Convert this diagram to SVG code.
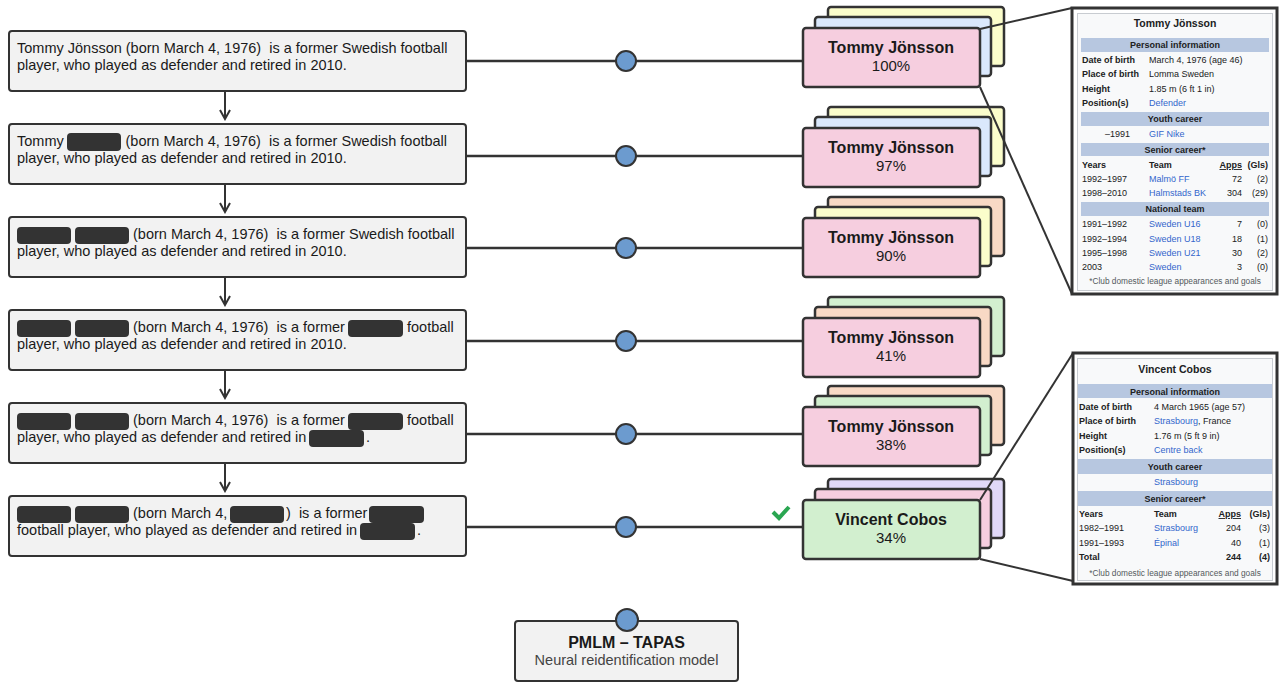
<svg xmlns="http://www.w3.org/2000/svg" width="1284" height="682" viewBox="0 0 1284 682">
<style>
text{font-family:"Liberation Sans",Arial,sans-serif;fill:#1a1a1a}
.tb{fill:#f2f2f2;stroke:#333;stroke-width:2}
.st{font-size:14.5px}
.rd{fill:#333}
.card{stroke:#333;stroke-width:2.5}
.pk{fill:#f6cedf}.bl{fill:#dae8fc}.yl{fill:#fbfdcb}.pc{fill:#f8d9c5}.gr{fill:#d2efcf}.lv{fill:#e0d8f8}
.nm{font-size:16px;font-weight:bold;text-anchor:middle}
.pct{font-size:15px;text-anchor:middle}
.ln{stroke:#333;stroke-width:2.5;fill:none}
.dot{fill:#6c9bcf;stroke:#333;stroke-width:2}
.ib{fill:#fff;stroke:#333;stroke-width:3}
.ibi{fill:#f8f9fa;stroke:#c8ccd1;stroke-width:1}
.bar{fill:#b7c7e0}
.it{font-size:9px;fill:#202122}
.b{font-weight:bold}
.lk{fill:#3366cc}
.r{text-anchor:end}
.c{text-anchor:middle}
.ttl{font-size:10.5px;font-weight:bold;text-anchor:middle;fill:#202122}
.fn{font-size:8.3px;fill:#54595d;text-anchor:middle}
</style>
<defs>
<marker id="chev" markerWidth="12" markerHeight="12" refX="10" refY="6" orient="auto" markerUnits="userSpaceOnUse">
<path d="M1,1 L10,6 L1,11" fill="none" stroke="#333" stroke-width="2"/>
</marker>
</defs>

<g id="connectors">
<line class="ln" x1="466" y1="61" x2="803" y2="61"/>
<line class="ln" x1="466" y1="156" x2="803" y2="156"/>
<line class="ln" x1="466" y1="248" x2="803" y2="248"/>
<line class="ln" x1="466" y1="341" x2="803" y2="341"/>
<line class="ln" x1="466" y1="434" x2="803" y2="434"/>
<line class="ln" x1="466" y1="527" x2="803" y2="527"/>
<g stroke="#333" stroke-width="2" marker-end="url(#chev)">
<line x1="225" y1="91" x2="225" y2="119"/>
<line x1="225" y1="184" x2="225" y2="212"/>
<line x1="225" y1="277" x2="225" y2="305"/>
<line x1="225" y1="370" x2="225" y2="398"/>
<line x1="225" y1="463" x2="225" y2="491"/>
</g>
</g>

<g id="sentence1">
<rect class="tb" x="9" y="31" width="457" height="60" rx="3"/>
<text class="st" x="17" y="53" xml:space="preserve">Tommy Jönsson (born March 4, 1976)  is a former Swedish football</text>
<text class="st" x="17" y="70">player, who played as defender and retired in 2010.</text>
</g>
<g id="sentence2">
<rect class="tb" x="9" y="124" width="457" height="60" rx="3"/>
<text class="st" x="17" y="146">Tommy</text>
<rect class="rd" x="67" y="133" width="54" height="18" rx="4"/>
<text class="st" x="125.5" y="146" xml:space="preserve">(born March 4, 1976)  is a former Swedish football</text>
<text class="st" x="17" y="163">player, who played as defender and retired in 2010.</text>
</g>
<g id="sentence3">
<rect class="tb" x="9" y="217" width="457" height="60" rx="3"/>
<rect class="rd" x="17" y="227" width="54" height="17" rx="4"/>
<rect class="rd" x="75" y="227" width="54" height="17" rx="4"/>
<text class="st" x="133" y="239" xml:space="preserve">(born March 4, 1976)  is a former Swedish football</text>
<text class="st" x="17" y="256">player, who played as defender and retired in 2010.</text>
</g>
<g id="sentence4">
<rect class="tb" x="9" y="310" width="457" height="60" rx="3"/>
<rect class="rd" x="17" y="320" width="54" height="17" rx="4"/>
<rect class="rd" x="75" y="320" width="54" height="17" rx="4"/>
<text class="st" x="133" y="332" xml:space="preserve">(born March 4, 1976)  is a former</text>
<rect class="rd" x="348" y="320" width="55" height="17" rx="4"/>
<text class="st" x="407" y="332">football</text>
<text class="st" x="17" y="349">player, who played as defender and retired in 2010.</text>
</g>
<g id="sentence5">
<rect class="tb" x="9" y="403" width="457" height="60" rx="3"/>
<rect class="rd" x="17" y="413" width="54" height="17" rx="4"/>
<rect class="rd" x="75" y="413" width="54" height="17" rx="4"/>
<text class="st" x="133" y="425" xml:space="preserve">(born March 4, 1976)  is a former</text>
<rect class="rd" x="348" y="413" width="55" height="17" rx="4"/>
<text class="st" x="407" y="425">football</text>
<text class="st" x="17" y="442">player, who played as defender and retired in</text>
<rect class="rd" x="309" y="430" width="55" height="17" rx="4"/>
<text class="st" x="366" y="442">.</text>
</g>
<g id="sentence6">
<rect class="tb" x="9" y="496" width="457" height="60" rx="3"/>
<rect class="rd" x="17" y="506" width="54" height="17" rx="4"/>
<rect class="rd" x="75" y="506" width="54" height="17" rx="4"/>
<text class="st" x="133" y="518">(born March 4,</text>
<rect class="rd" x="230" y="506" width="54" height="17" rx="4"/>
<text class="st" x="286" y="518" xml:space="preserve">)  is a former</text>
<rect class="rd" x="369" y="506" width="55" height="17" rx="4"/>
<text class="st" x="17" y="535">football player, who played as defender and retired in</text>
<rect class="rd" x="360" y="523" width="55" height="17" rx="4"/>
<text class="st" x="417" y="535">.</text>
</g>

<g id="dots">
<circle class="dot" cx="626" cy="61" r="10"/>
<circle class="dot" cx="626" cy="156" r="10"/>
<circle class="dot" cx="626" cy="248" r="10"/>
<circle class="dot" cx="626" cy="341" r="10"/>
<circle class="dot" cx="626" cy="434" r="10"/>
<circle class="dot" cx="626" cy="527" r="10"/>
</g>

<g id="cards1">
<rect class="card yl" x="828" y="7" width="176" height="59" rx="3"/>
<rect class="card bl" x="815" y="17" width="176" height="59" rx="3"/>
<rect class="card pk" x="803" y="28" width="177" height="59" rx="3"/>
<text class="nm" x="891" y="53">Tommy Jönsson</text>
<text class="pct" x="891" y="71">100%</text>
</g>
<g id="cards2">
<rect class="card yl" x="828" y="107" width="176" height="59" rx="3"/>
<rect class="card bl" x="815" y="117" width="176" height="59" rx="3"/>
<rect class="card pk" x="803" y="128" width="177" height="59" rx="3"/>
<text class="nm" x="891" y="153">Tommy Jönsson</text>
<text class="pct" x="891" y="171">97%</text>
</g>
<g id="cards3">
<rect class="card pc" x="828" y="197" width="176" height="59" rx="3"/>
<rect class="card yl" x="815" y="207" width="176" height="59" rx="3"/>
<rect class="card pk" x="803" y="218" width="177" height="59" rx="3"/>
<text class="nm" x="891" y="243">Tommy Jönsson</text>
<text class="pct" x="891" y="261">90%</text>
</g>
<g id="cards4">
<rect class="card gr" x="828" y="297" width="176" height="59" rx="3"/>
<rect class="card pc" x="815" y="307" width="176" height="59" rx="3"/>
<rect class="card pk" x="803" y="318" width="177" height="59" rx="3"/>
<text class="nm" x="891" y="343">Tommy Jönsson</text>
<text class="pct" x="891" y="361">41%</text>
</g>
<g id="cards5">
<rect class="card pc" x="828" y="386" width="176" height="59" rx="3"/>
<rect class="card gr" x="815" y="396" width="176" height="59" rx="3"/>
<rect class="card pk" x="803" y="407" width="177" height="59" rx="3"/>
<text class="nm" x="891" y="432">Tommy Jönsson</text>
<text class="pct" x="891" y="450">38%</text>
</g>
<g id="cards6">
<rect class="card lv" x="828" y="479" width="176" height="59" rx="3"/>
<rect class="card pk" x="815" y="489" width="176" height="59" rx="3"/>
<rect class="card gr" x="803" y="500" width="177" height="59" rx="3"/>
<text class="nm" x="891" y="525">Vincent Cobos</text>
<text class="pct" x="891" y="543">34%</text>
<polyline points="773,512 779,518 789,507" fill="none" stroke="#2aa651" stroke-width="4"/>
</g>

<g id="zoomlines">
<line x1="980" y1="29" x2="1072" y2="8" stroke="#333" stroke-width="2"/>
<line x1="980" y1="87" x2="1072" y2="294" stroke="#333" stroke-width="2"/>
<line x1="980" y1="500" x2="1073" y2="353" stroke="#333" stroke-width="2"/>
<line x1="980" y1="559" x2="1073" y2="581" stroke="#333" stroke-width="2"/>
</g>

<g id="infobox1">
<rect class="ib" x="1072" y="8" width="205" height="286"/>
<rect class="ibi" x="1077.5" y="13.5" width="195" height="277"/>
<text class="ttl" x="1175" y="27">Tommy Jönsson</text>
<rect class="bar" x="1081" y="38" width="188" height="14"/>
<text class="it b c" x="1175" y="48">Personal information</text>
<text class="it b" x="1082" y="63">Date of birth</text><text class="it" x="1149" y="63">March 4, 1976 (age 46)</text>
<text class="it b" x="1082" y="77">Place of birth</text><text class="it" x="1149" y="77">Lomma Sweden</text>
<text class="it b" x="1082" y="92">Height</text><text class="it" x="1149" y="92">1.85 m (6 ft 1 in)</text>
<text class="it b" x="1082" y="106">Position(s)</text><text class="it lk" x="1149" y="106">Defender</text>
<rect class="bar" x="1081" y="112" width="188" height="14"/>
<text class="it b c" x="1175" y="122">Youth career</text>
<text class="it r" x="1130" y="137">–1991</text><text class="it lk" x="1149" y="137">GIF Nike</text>
<rect class="bar" x="1081" y="143" width="188" height="13"/>
<text class="it b c" x="1175" y="153">Senior career*</text>
<text class="it b" x="1082" y="168">Years</text><text class="it b" x="1149" y="168">Team</text><text class="it b r" x="1242" y="168" text-decoration="underline">Apps</text><text class="it b r" x="1268" y="168">(Gls)</text>
<text class="it" x="1082" y="182">1992–1997</text><text class="it lk" x="1149" y="182">Malmö FF</text><text class="it r" x="1242" y="182">72</text><text class="it r" x="1268" y="182">(2)</text>
<text class="it" x="1082" y="196">1998–2010</text><text class="it lk" x="1149" y="196">Halmstads BK</text><text class="it r" x="1242" y="196">304</text><text class="it r" x="1268" y="196">(29)</text>
<rect class="bar" x="1081" y="202" width="188" height="14"/>
<text class="it b c" x="1175" y="212">National team</text>
<text class="it" x="1082" y="227">1991–1992</text><text class="it lk" x="1149" y="227">Sweden U16</text><text class="it r" x="1242" y="227">7</text><text class="it r" x="1268" y="227">(0)</text>
<text class="it" x="1082" y="242">1992–1994</text><text class="it lk" x="1149" y="242">Sweden U18</text><text class="it r" x="1242" y="242">18</text><text class="it r" x="1268" y="242">(1)</text>
<text class="it" x="1082" y="256">1995–1998</text><text class="it lk" x="1149" y="256">Sweden U21</text><text class="it r" x="1242" y="256">30</text><text class="it r" x="1268" y="256">(2)</text>
<text class="it" x="1082" y="270">2003</text><text class="it lk" x="1149" y="270">Sweden</text><text class="it r" x="1242" y="270">3</text><text class="it r" x="1268" y="270">(0)</text>
<text class="fn" x="1175" y="284">*Club domestic league appearances and goals</text>
</g>

<g id="infobox2">
<rect class="ib" x="1073" y="353" width="204" height="231"/>
<rect class="ibi" x="1077.5" y="358.5" width="195" height="222"/>
<text class="ttl" x="1175" y="373">Vincent Cobos</text>
<rect class="bar" x="1078" y="384" width="194" height="14"/>
<text class="it b c" x="1175" y="395">Personal information</text>
<text class="it b" x="1079" y="410">Date of birth</text><text class="it" x="1154" y="410">4 March 1965 (age 57)</text>
<text class="it b" x="1079" y="424">Place of birth</text><text class="it" x="1154" y="424"><tspan class="lk">Strasbourg</tspan>, France</text>
<text class="it b" x="1079" y="439">Height</text><text class="it" x="1154" y="439">1.76 m (5 ft 9 in)</text>
<text class="it b" x="1079" y="453">Position(s)</text><text class="it lk" x="1154" y="453">Centre back</text>
<rect class="bar" x="1078" y="459" width="194" height="15"/>
<text class="it b c" x="1175" y="470">Youth career</text>
<text class="it lk" x="1154" y="485">Strasbourg</text>
<rect class="bar" x="1078" y="491" width="194" height="15"/>
<text class="it b c" x="1175" y="502">Senior career*</text>
<text class="it b" x="1079" y="517">Years</text><text class="it b" x="1154" y="517">Team</text><text class="it b r" x="1241" y="517" text-decoration="underline">Apps</text><text class="it b r" x="1270" y="517">(Gls)</text>
<text class="it" x="1079" y="531">1982–1991</text><text class="it lk" x="1154" y="531">Strasbourg</text><text class="it r" x="1241" y="531">204</text><text class="it r" x="1270" y="531">(3)</text>
<text class="it" x="1079" y="546">1991–1993</text><text class="it lk" x="1154" y="546">Épinal</text><text class="it r" x="1241" y="546">40</text><text class="it r" x="1270" y="546">(1)</text>
<text class="it b" x="1079" y="560">Total</text><text class="it b r" x="1241" y="560">244</text><text class="it b r" x="1270" y="560">(4)</text>
<text class="fn" x="1175" y="576">*Club domestic league appearances and goals</text>
</g>

<g id="model">
<rect class="tb" x="515" y="621" width="223" height="60" rx="3"/>
<circle class="dot" cx="627" cy="620" r="11"/>
<text class="nm" x="626.5" y="648">PMLM – TAPAS</text>
<text class="st" x="626.5" y="665" text-anchor="middle" style="fill:#444">Neural reidentification model</text>
</g>
</svg>
